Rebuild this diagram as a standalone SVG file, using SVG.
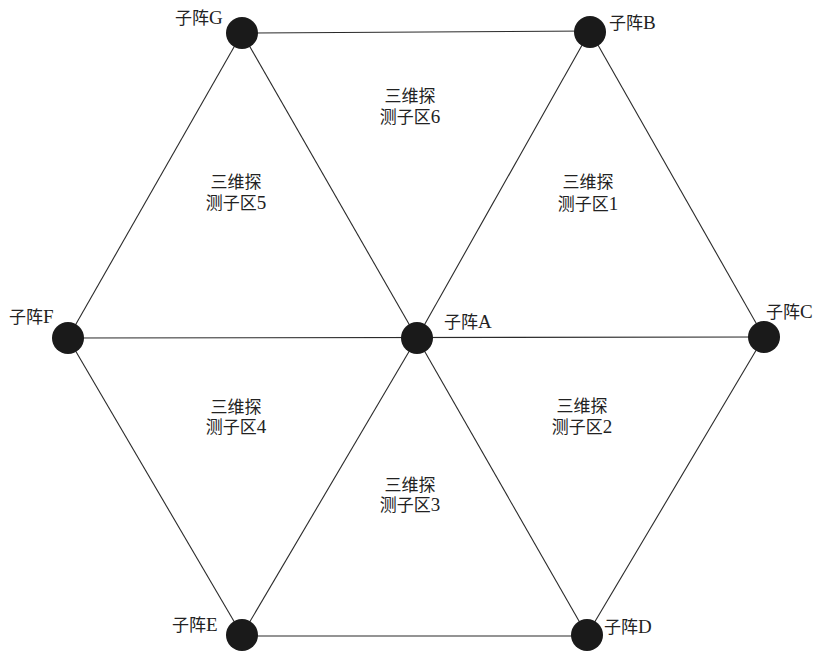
<svg xmlns="http://www.w3.org/2000/svg" width="815" height="651" viewBox="0 0 815 651">
<style>
.e{stroke:#2a2a2a;stroke-width:1.1;fill:none}
.n{fill:#1a1a1a}
.t{font-family:"Liberation Serif","Noto Sans CJK SC",serif;font-size:17px;fill:#222}
.r{font-family:"Liberation Serif","Noto Sans CJK SC",serif;font-size:17px;fill:#222;text-anchor:middle}
.l{font-size:19px}
</style>
<rect width="815" height="651" fill="#fff"/>
<g id="connectors">
<line class="e" x1="242" y1="33" x2="590" y2="31"/>
<line class="e" x1="242" y1="33" x2="68" y2="338"/>
<line class="e" x1="242" y1="33" x2="417" y2="338"/>
<line class="e" x1="590" y1="31" x2="417" y2="338"/>
<line class="e" x1="590" y1="31" x2="764" y2="337"/>
<line class="e" x1="68" y1="338" x2="764" y2="337"/>
<line class="e" x1="68" y1="338" x2="242" y2="635"/>
<line class="e" x1="417" y1="338" x2="242" y2="635"/>
<line class="e" x1="417" y1="338" x2="587" y2="635"/>
<line class="e" x1="764" y1="337" x2="587" y2="635"/>
<line class="e" x1="242" y1="636" x2="587" y2="636"/>
</g>
<g id="nodeG"><circle class="n" cx="242" cy="33" r="16"/><text class="t" x="175" y="24">子阵<tspan class="l">G</tspan></text></g>
<g id="nodeB"><circle class="n" cx="590" cy="32" r="16"/><text class="t" x="609" y="29">子阵<tspan class="l">B</tspan></text></g>
<g id="nodeF"><circle class="n" cx="68" cy="338" r="16"/><text class="t" x="9" y="323">子阵<tspan class="l">F</tspan></text></g>
<g id="nodeA"><circle class="n" cx="417" cy="338" r="16"/><text class="t" x="444" y="328">子阵<tspan class="l">A</tspan></text></g>
<g id="nodeC"><circle class="n" cx="764" cy="337" r="16"/><text class="t" x="766" y="318">子阵<tspan class="l">C</tspan></text></g>
<g id="nodeE"><circle class="n" cx="242" cy="635" r="16"/><text class="t" x="172" y="631">子阵<tspan class="l">E</tspan></text></g>
<g id="nodeD"><circle class="n" cx="587" cy="635" r="16"/><text class="t" x="604" y="633">子阵<tspan class="l">D</tspan></text></g>
<g id="zone6"><text class="r" x="410" y="102">三维探</text><text class="r" x="410" y="123">测子区<tspan class="l">6</tspan></text></g>
<g id="zone5"><text class="r" x="236" y="188">三维探</text><text class="r" x="236" y="209">测子区<tspan class="l">5</tspan></text></g>
<g id="zone1"><text class="r" x="588" y="188">三维探</text><text class="r" x="588" y="210">测子区<tspan class="l">1</tspan></text></g>
<g id="zone4"><text class="r" x="236" y="413">三维探</text><text class="r" x="236" y="433">测子区<tspan class="l">4</tspan></text></g>
<g id="zone2"><text class="r" x="582" y="412">三维探</text><text class="r" x="582" y="433">测子区<tspan class="l">2</tspan></text></g>
<g id="zone3"><text class="r" x="410" y="491">三维探</text><text class="r" x="410" y="511">测子区<tspan class="l">3</tspan></text></g>
</svg>
